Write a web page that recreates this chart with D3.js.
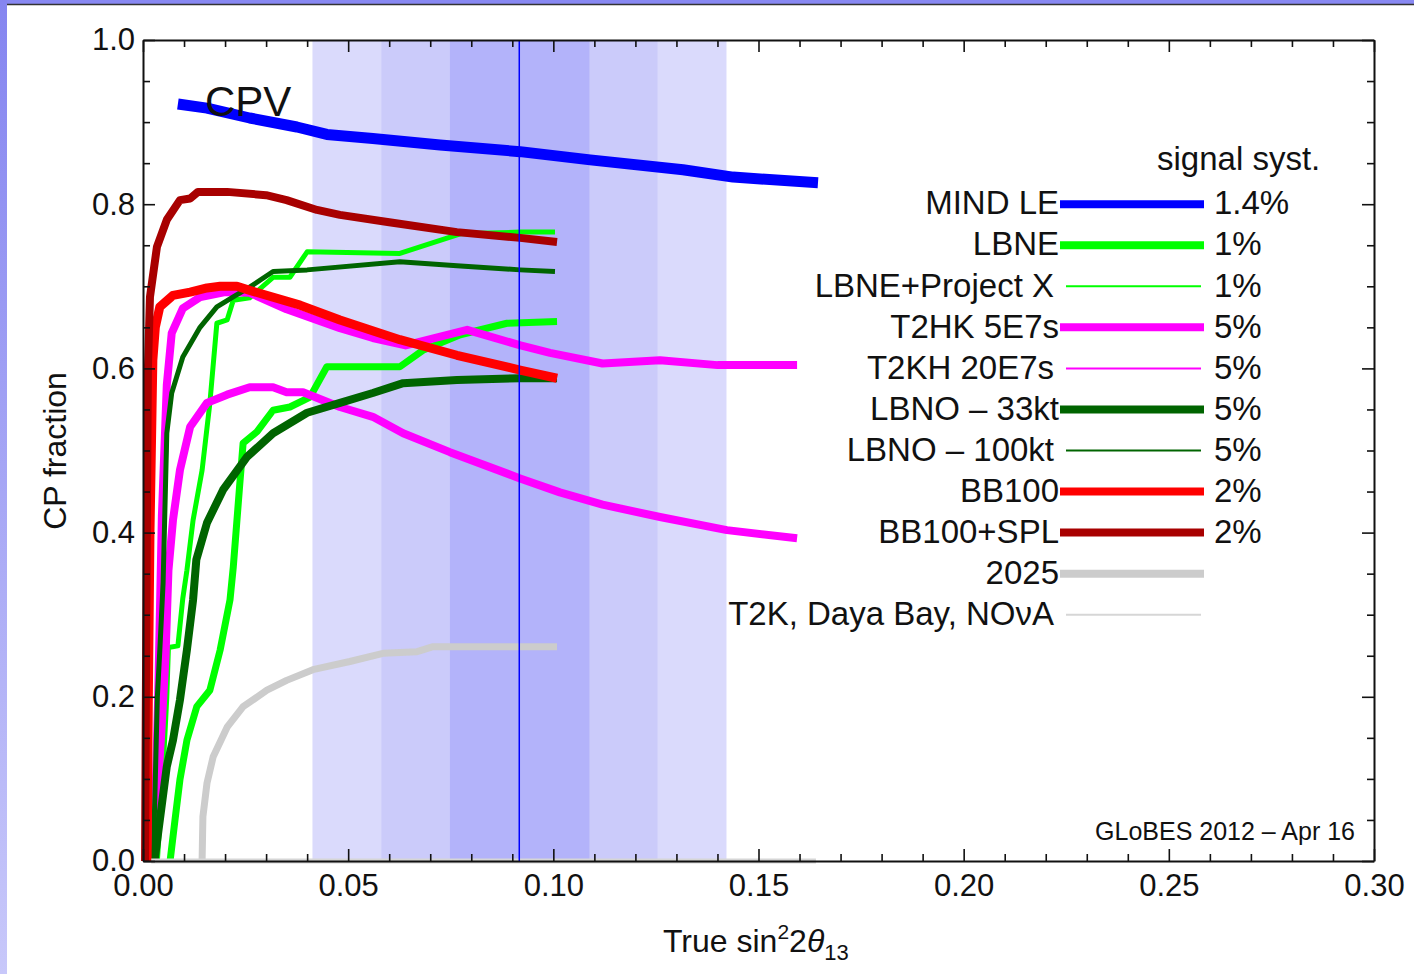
<!DOCTYPE html>
<html>
<head>
<meta charset="utf-8">
<script src="https://cdn.jsdelivr.net/npm/d3@7"></script>
<style>
  body { margin: 0; background: #fff; }
  svg { display: block; font-family: "Liberation Sans", Arial, sans-serif; }
</style>
</head>
<body>
<div id="chart"></div>
<script>
// axis ticks
const xMajor = [0, 0.05, 0.1, 0.15, 0.2, 0.25, 0.3];
const xMinor = [0.01, 0.02, 0.03, 0.04, 0.06, 0.07, 0.08, 0.09, 0.11, 0.12, 0.13, 0.14,
  0.16, 0.17, 0.18, 0.19, 0.21, 0.22, 0.23, 0.24, 0.26, 0.27, 0.28, 0.29];
const yMajor = [0, 0.2, 0.4, 0.6, 0.8, 1.0];
const yMinor = [0.05, 0.1, 0.15, 0.25, 0.3, 0.35, 0.45, 0.5, 0.55, 0.65, 0.7, 0.75, 0.85, 0.9, 0.95];

// theta13 bands (1, 2, 3 sigma) and best fit
const bands = [[0.0413, 0.1422], [0.0581, 0.1254], [0.0748, 0.1088]];
const bestFit = 0.0917;

// curves [sin^2 2theta13, CP fraction]
const mindLE = [[0.0085, 0.922], [0.0156, 0.917], [0.026, 0.905], [0.0375, 0.894], [0.0448, 0.885],
  [0.056, 0.88], [0.0724, 0.872], [0.0919, 0.864], [0.109, 0.854], [0.1316, 0.842], [0.1438, 0.833], [0.1645, 0.826]];
const lbne = [[0.0066, 0], [0.0078, 0.05], [0.009, 0.099], [0.0107, 0.147], [0.0131, 0.188], [0.0163, 0.208],
  [0.0188, 0.257], [0.0212, 0.318], [0.022, 0.358], [0.0236, 0.46], [0.0244, 0.509], [0.0278, 0.523],
  [0.0317, 0.549], [0.0358, 0.553], [0.0407, 0.565], [0.0448, 0.602], [0.0626, 0.602], [0.0682, 0.622],
  [0.0773, 0.641], [0.0887, 0.655], [0.1009, 0.657]];
const lbnePX = [[0.0035, 0], [0.0048, 0.1], [0.0058, 0.2], [0.0062, 0.26], [0.0085, 0.262], [0.0097, 0.32],
  [0.0107, 0.354], [0.0122, 0.415], [0.0144, 0.476], [0.0163, 0.558], [0.018, 0.655], [0.0205, 0.659],
  [0.022, 0.683], [0.026, 0.686], [0.0317, 0.711], [0.0358, 0.711], [0.04, 0.742], [0.0626, 0.74],
  [0.0773, 0.764], [0.0919, 0.766], [0.1004, 0.766]];
const t2hk5 = [[0.0025, 0], [0.0035, 0.08], [0.0045, 0.16], [0.0055, 0.25], [0.0062, 0.354], [0.0073, 0.415],
  [0.009, 0.476], [0.0115, 0.529], [0.0156, 0.558], [0.0205, 0.568], [0.026, 0.577], [0.0317, 0.577],
  [0.035, 0.571], [0.039, 0.571], [0.048, 0.553], [0.056, 0.541], [0.0634, 0.521], [0.0748, 0.498],
  [0.0919, 0.466], [0.1016, 0.449], [0.112, 0.434], [0.126, 0.419], [0.1423, 0.403], [0.1594, 0.393]];
const t2hk20 = [[0.002, 0], [0.003, 0.07], [0.0037, 0.2], [0.0046, 0.42], [0.0058, 0.58], [0.007, 0.643],
  [0.0097, 0.673], [0.014, 0.687], [0.02, 0.693], [0.026, 0.692], [0.035, 0.672], [0.048, 0.649],
  [0.056, 0.637], [0.064, 0.628], [0.079, 0.647], [0.092, 0.628], [0.0992, 0.619], [0.112, 0.606],
  [0.126, 0.61], [0.14, 0.604], [0.1594, 0.604]];
const lbno33 = [[0.0028, 0], [0.0058, 0.115], [0.0073, 0.147], [0.009, 0.196], [0.0107, 0.257], [0.0122, 0.318],
  [0.013, 0.367], [0.0156, 0.412], [0.0195, 0.452], [0.0253, 0.492], [0.0317, 0.521], [0.04, 0.546],
  [0.048, 0.558], [0.056, 0.57], [0.0634, 0.582], [0.0765, 0.586], [0.0919, 0.588], [0.1009, 0.588]];
const lbno100 = [[0.0025, 0], [0.003, 0.1], [0.0035, 0.2], [0.0041, 0.257], [0.0049, 0.339], [0.0058, 0.521],
  [0.007, 0.57], [0.0097, 0.614], [0.0139, 0.65], [0.018, 0.675], [0.022, 0.687], [0.026, 0.699],
  [0.0317, 0.718], [0.04, 0.72], [0.0626, 0.73], [0.0765, 0.725], [0.0919, 0.72], [0.1004, 0.718]];
const bb100 = [[0.001, 0], [0.0013, 0.2], [0.0017, 0.4], [0.0022, 0.55], [0.0024, 0.61], [0.003, 0.65],
  [0.0041, 0.675], [0.0073, 0.689], [0.0115, 0.693], [0.0156, 0.698], [0.0188, 0.7], [0.0229, 0.7],
  [0.026, 0.695], [0.0383, 0.677], [0.048, 0.659], [0.0626, 0.635], [0.0765, 0.616], [0.0919, 0.598], [0.1009, 0.588]];
const bb100spl = [[0.0005, 0], [0.0007, 0.2], [0.001, 0.45], [0.0012, 0.6], [0.0017, 0.687], [0.0034, 0.748],
  [0.0058, 0.781], [0.009, 0.805], [0.0115, 0.807], [0.0134, 0.815], [0.0205, 0.815], [0.03, 0.811],
  [0.035, 0.805], [0.0424, 0.793], [0.048, 0.787], [0.06, 0.778], [0.0765, 0.766], [0.0919, 0.759], [0.1009, 0.754]];
const y2025 = [[0.0144, 0], [0.0146, 0.054], [0.0156, 0.095], [0.0171, 0.127], [0.0205, 0.163], [0.0244, 0.188],
  [0.0302, 0.208], [0.035, 0.22], [0.0414, 0.233], [0.0504, 0.243], [0.0585, 0.253], [0.0668, 0.255],
  [0.0707, 0.261], [0.1009, 0.261]];
const t2kNova = [[0.002, 0], [0.164, 0]];

// legend
const legendNames = ['MIND LE', 'LBNE', 'LBNE+Project X', 'T2HK 5E7s', 'T2KH 20E7s', 'LBNO \u2013 33kt',
  'LBNO \u2013 100kt', 'BB100', 'BB100+SPL', '2025', 'T2K, Daya Bay, NO\u03bdA'];
const legendSyst = ['1.4%', '1%', '1%', '5%', '5%', '5%', '5%', '2%', '2%', '', ''];

// styling per series (plot width, legend thick?)
const series = [
  { data: mindLE, color: '#0000ff', w: 11, thick: true },
  { data: lbne, color: '#00ff00', w: 7, thick: true },
  { data: lbnePX, color: '#00ff00', w: 5, thick: false },
  { data: t2hk5, color: '#ff00ff', w: 8, thick: true },
  { data: t2hk20, color: '#ff00ff', w: 8, thick: false },
  { data: lbno33, color: '#006400', w: 8, thick: true },
  { data: lbno100, color: '#006400', w: 5, thick: false },
  { data: bb100, color: '#ff0000', w: 9, thick: true },
  { data: bb100spl, color: '#a80000', w: 8, thick: true },
  { data: y2025, color: '#cccccc', w: 7, thick: true },
  { data: t2kNova, color: '#d6d6d6', w: 5, thick: false }
];

const width = 1414;
const height = 974;
const margin = { left: 143, right: 40, top: 40, bottom: 113 };

const x = d3.scaleLinear().domain([0, 0.3]).range([margin.left, width - margin.right]);
const y = d3.scaleLinear().domain([0, 1]).range([height - margin.bottom, margin.top]);

const svg = d3.select('#chart').append('svg')
  .attr('width', width)
  .attr('height', height);

// slide frame
const grad = svg.append('defs').append('linearGradient')
  .attr('id', 'side').attr('x1', 0).attr('y1', 0).attr('x2', 0).attr('y2', 1);
grad.append('stop').attr('offset', 0).attr('stop-color', '#8585f0');
grad.append('stop').attr('offset', 1).attr('stop-color', '#c8c8fa');
svg.append('rect').attr('width', width).attr('height', height).attr('fill', '#fff');
svg.append('rect').attr('width', width).attr('height', 4).attr('fill', '#8888f2');
svg.append('rect').attr('width', 7).attr('height', height).attr('fill', 'url(#side)');
svg.append('line').attr('x1', 7).attr('x2', width).attr('y1', 4.5).attr('y2', 4.5)
  .attr('stroke', '#333').attr('stroke-width', 1.5);

// bands
const bandColors = ['#dadafc', '#cbcbfa', '#b3b3fa'];
svg.append('g').selectAll('rect').data(bands).join('rect')
  .attr('x', (d) => x(d[0]))
  .attr('width', (d) => x(d[1]) - x(d[0]))
  .attr('y', y(1))
  .attr('height', y(0) - y(1))
  .attr('fill', (d, i) => bandColors[i]);

// curves
const line = d3.line().x((d) => x(d[0])).y((d) => y(d[1]));
svg.append('g').selectAll('path').data(series).join('path')
  .attr('d', (d) => line(d.data))
  .attr('fill', 'none')
  .attr('stroke', (d) => d.color)
  .attr('stroke-width', (d) => d.w)
  .attr('stroke-linejoin', 'round');

// best fit line
svg.append('line')
  .attr('x1', x(bestFit)).attr('x2', x(bestFit))
  .attr('y1', y(1)).attr('y2', y(0))
  .attr('stroke', '#0000ff').attr('stroke-width', 1.5);

// legend
const rowY = (i) => y(0.8 - 0.05 * i);
svg.append('text').attr('x', 1157).attr('y', 170)
  .attr('font-size', 33).attr('fill', '#111').text('signal syst.');
const leg = svg.append('g').selectAll('g').data(series).join('g');
leg.append('line')
  .attr('x1', (d) => (d.thick ? 1060 : 1066))
  .attr('x2', (d) => (d.thick ? 1204 : 1201))
  .attr('y1', (d, i) => rowY(i))
  .attr('y2', (d, i) => rowY(i))
  .attr('stroke', (d) => d.color)
  .attr('stroke-width', (d) => (d.thick ? 8 : 2));
leg.append('text')
  .attr('x', (d) => (d.thick ? 1059 : 1054))
  .attr('y', (d, i) => rowY(i))
  .attr('dy', '0.31em')
  .attr('text-anchor', 'end')
  .attr('font-size', 33)
  .attr('fill', '#111')
  .text((d, i) => legendNames[i]);
leg.append('text')
  .attr('x', 1214)
  .attr('y', (d, i) => rowY(i))
  .attr('dy', '0.31em')
  .attr('font-size', 33)
  .attr('fill', '#111')
  .text((d, i) => legendSyst[i]);

// axes
function styleAxis(g) {
  g.attr('font-size', 31).attr('font-family', null);
  g.selectAll('.tick line').attr('stroke', '#111').attr('stroke-width', 1.6);
  g.selectAll('.tick text').attr('fill', '#111');
  g.select('.domain').attr('stroke', '#111').attr('stroke-width', 2);
}
function minor(g) {
  g.select('.domain').remove();
  g.selectAll('.tick line').attr('stroke', '#111').attr('stroke-width', 1.6);
}

svg.append('g').attr('transform', `translate(0,${y(0)})`)
  .call(d3.axisBottom(x).tickValues(xMajor).tickFormat(d3.format('.2f'))
    .tickSizeInner(-12).tickSizeOuter(0).tickPadding(13))
  .call(styleAxis);
svg.append('g').attr('transform', `translate(0,${y(0)})`)
  .call(d3.axisBottom(x).tickValues(xMinor).tickFormat('').tickSizeInner(-7).tickSizeOuter(0))
  .call(minor);
svg.append('g').attr('transform', `translate(0,${y(1)})`)
  .call(d3.axisTop(x).tickValues(xMajor).tickFormat('').tickSizeInner(-12).tickSizeOuter(0))
  .call(styleAxis);
svg.append('g').attr('transform', `translate(0,${y(1)})`)
  .call(d3.axisTop(x).tickValues(xMinor).tickFormat('').tickSizeInner(-7).tickSizeOuter(0))
  .call(minor);
svg.append('g').attr('transform', `translate(${x(0)},0)`)
  .call(d3.axisLeft(y).tickValues(yMajor).tickFormat(d3.format('.1f'))
    .tickSizeInner(-12).tickSizeOuter(0).tickPadding(8))
  .call(styleAxis);
svg.append('g').attr('transform', `translate(${x(0)},0)`)
  .call(d3.axisLeft(y).tickValues(yMinor).tickFormat('').tickSizeInner(-7).tickSizeOuter(0))
  .call(minor);
svg.append('g').attr('transform', `translate(${x(0.3)},0)`)
  .call(d3.axisRight(y).tickValues(yMajor).tickFormat('').tickSizeInner(-12).tickSizeOuter(0))
  .call(styleAxis);
svg.append('g').attr('transform', `translate(${x(0.3)},0)`)
  .call(d3.axisRight(y).tickValues(yMinor).tickFormat('').tickSizeInner(-7).tickSizeOuter(0))
  .call(minor);

// axis titles
svg.append('text')
  .attr('transform', 'translate(66,451) rotate(-90)')
  .attr('text-anchor', 'middle')
  .attr('font-size', 32)
  .attr('fill', '#111')
  .text('CP fraction');

const xt = svg.append('text').attr('x', 663).attr('y', 952).attr('font-size', 32).attr('fill', '#111');
xt.append('tspan').text('True sin');
xt.append('tspan').attr('font-size', 21).attr('dy', -13).text('2');
xt.append('tspan').attr('dy', 13).text('2');
xt.append('tspan').attr('font-style', 'italic').text('\u03b8');
xt.append('tspan').attr('font-size', 22).attr('dy', 8).text('13');

// annotations
svg.append('text').attr('x', 205).attr('y', 116)
  .attr('font-size', 42).attr('fill', '#111').text('CPV');
svg.append('text').attr('x', 1355).attr('y', 840)
  .attr('text-anchor', 'end').attr('font-size', 25).attr('fill', '#111')
  .text('GLoBES 2012 \u2013 Apr 16');
</script>
</body>
</html>
